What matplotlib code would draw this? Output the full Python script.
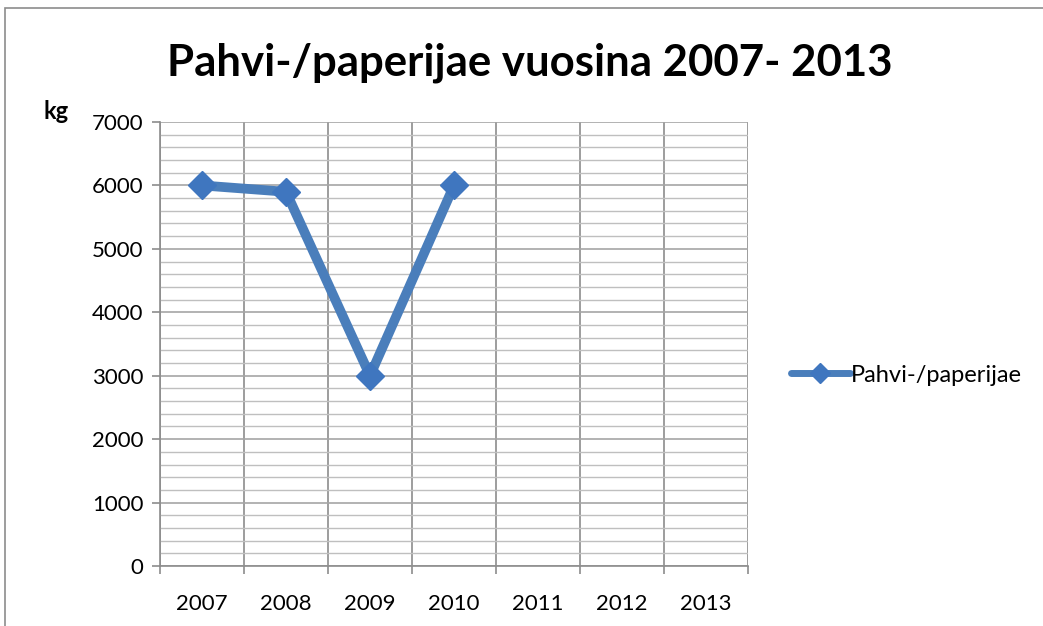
import matplotlib
matplotlib.use("Agg")
import matplotlib.pyplot as plt
from matplotlib.ticker import MultipleLocator, FixedLocator
from matplotlib.patches import Rectangle

years = ["2007", "2008", "2009", "2010", "2011", "2012", "2013"]
kg_years = ["2007", "2008", "2009", "2010"]
kg_values = [6000, 5900, 3000, 6000]

plt.rcParams['font.family'] = ['Lato', 'DejaVu Sans']

fig = plt.figure(figsize=(10.43, 6.26), dpi=100)
ax = fig.add_axes([0.1534, 0.0958, 0.5638, 0.7093])

# outer chart frame (only top and left show in the picture)
fig.patches.append(Rectangle((0.005, -0.1), 1.1, 0.1 + 0.987, transform=fig.transFigure,
                             fill=False, edgecolor="#8c8c8c", linewidth=1.2))

xs = [years.index(y) for y in kg_years]
ax.plot(xs, kg_values, color="#4a7ebb", linewidth=7, marker="D", markersize=14,
        markerfacecolor="#3f76bf", markeredgecolor="#3f76bf", label="Pahvi-/paperijae",
        solid_capstyle="round", zorder=3)

ax.set_xlim(-0.5, len(years) - 0.5)
ax.set_ylim(0, 7000)
ax.set_xticks(range(len(years)))
ax.set_xticklabels(years)
ax.xaxis.set_minor_locator(FixedLocator([i - 0.5 for i in range(len(years) + 1)]))
ax.yaxis.set_major_locator(MultipleLocator(1000))
ax.yaxis.set_minor_locator(MultipleLocator(200))

ax.grid(which="major", axis="y", color="#a6a6a6", linewidth=1.2)
ax.grid(which="minor", axis="y", color="#bfbfbf", linewidth=1.0)
ax.grid(which="minor", axis="x", color="#8c8c8c", linewidth=1.2)
ax.set_axisbelow(True)

ax.tick_params(axis="x", which="major", length=0, labelsize=16, pad=20)
ax.tick_params(axis="x", which="minor", length=6, color="#8c8c8c", width=1.2)
ax.tick_params(axis="y", which="major", length=6, color="#8c8c8c", width=1.2, labelsize=16, pad=6)
ax.tick_params(axis="y", which="minor", length=0)

for side in ["top", "right"]:
    ax.spines[side].set_visible(False)
for side in ["left", "bottom"]:
    ax.spines[side].set_color("#8c8c8c")
    ax.spines[side].set_linewidth(1.2)

fig.text(0.508, 0.9, "Pahvi-/paperijae vuosina 2007- 2013", ha="center", va="center",
         fontsize=31.5, fontweight="bold")
fig.text(0.054, 0.822, "kg", ha="center", va="center", fontsize=17, fontweight="bold")

leg = ax.legend(loc="center left", bbox_to_anchor=(1.0, 0.43), frameon=False, fontsize=17,
                handlelength=2.5, handletextpad=0.05, borderaxespad=1.4, markerscale=0.7)
leg.get_lines()[0].set_linewidth(5)

fig.savefig("out.png", dpi=100)
